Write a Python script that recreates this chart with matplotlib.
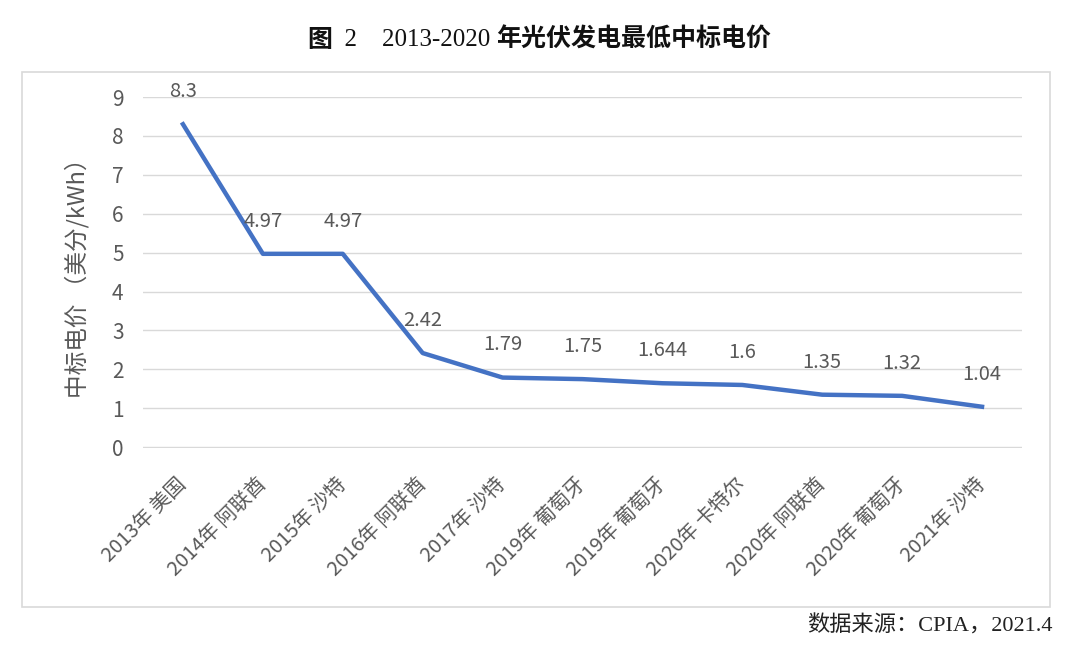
import matplotlib
matplotlib.use("Agg")
import matplotlib.pyplot as plt
from matplotlib.patches import Rectangle

plt.rcParams['font.family'] = ['Noto Sans CJK SC', 'DejaVu Sans']

categories = ["2013年 美国", "2014年 阿联酋", "2015年 沙特", "2016年 阿联酋", "2017年 沙特",
              "2019年 葡萄牙", "2019年 葡萄牙", "2020年 卡特尔", "2020年 阿联酋", "2020年 葡萄牙",
              "2021年 沙特"]
values = [8.3, 4.97, 4.97, 2.42, 1.79, 1.75, 1.644, 1.6, 1.35, 1.32, 1.04]
value_labels = ["8.3", "4.97", "4.97", "2.42", "1.79", "1.75", "1.644", "1.6", "1.35", "1.32", "1.04"]
y_ticks = [0, 1, 2, 3, 4, 5, 6, 7, 8, 9]

W, H = 1080, 655
fig = plt.figure(figsize=(W / 100, H / 100), dpi=100)
fig.patch.set_facecolor('white')

# outer chart frame
fig.patches.append(Rectangle((22 / W, 1 - 607 / H), (1050 - 22) / W, (607 - 72) / H,
                             transform=fig.transFigure, fill=False, edgecolor='#d9d9d9', linewidth=1.2))

ax = fig.add_axes([143 / W, 1 - 448 / H, (1022 - 143) / W, (448 - 97) / H])
x = list(range(len(categories)))
ax.plot(x, values, color='#4472C4', linewidth=3.2, solid_joinstyle='round', zorder=3)
ax.set_xlim(-0.5, len(categories) - 0.5)
ax.set_ylim(-0.02, 9)
ax.set_yticks(y_ticks)
ax.set_yticklabels([str(t) for t in y_ticks], fontweight='light')
ax.grid(axis='y', color='#d9d9d9', linewidth=1)
ax.set_axisbelow(True)
for s in ax.spines.values():
    s.set_visible(False)
ax.tick_params(axis='both', length=0, colors='#595959')
ax.tick_params(axis='y', pad=14, labelsize=15)
ax.set_xticks(x)
ax.set_xticklabels(categories, rotation=45, ha='right', va='center', rotation_mode='anchor',
                   fontsize=14.5, fontweight='light')
ax.tick_params(axis='x', pad=24)

for xi, v, lab in zip(x, values, value_labels):
    ax.annotate(lab, (xi, v), xytext=(0, 23.5), textcoords='offset points',
                ha='center', va='center', fontsize=14.5, color='#595959', fontweight='light')

ax.set_ylabel("中标电价 （美分/kWh）", fontsize=17, color='#595959', labelpad=16, fontweight='light')

# title in pieces: sans-bold Chinese, serif numbers
t1 = fig.text(307 / W, 1 - 40 / H, "图", ha='left', va='center', fontsize=18,
              fontweight='bold', color='#111111')
t2 = ax.annotate("  2    2013-2020 ", xy=(1, 0.5), xycoords=t1, ha='left', va='center',
                 fontsize=18, family=['Liberation Serif'], color='#111111', annotation_clip=False)
t3 = ax.annotate("年光伏发电最低中标电价", xy=(1, 0.5), xycoords=t2, ha='left', va='center',
                 fontsize=18, fontweight='bold', color='#111111', annotation_clip=False)

fig.text(1053 / W, 1 - 626 / H, "数据来源：CPIA，2021.4",
         ha='right', va='center', fontsize=16,
         family=['Liberation Serif', 'Noto Sans CJK SC'], color='#222222')

fig.savefig('out.png', dpi=100, facecolor='white')
